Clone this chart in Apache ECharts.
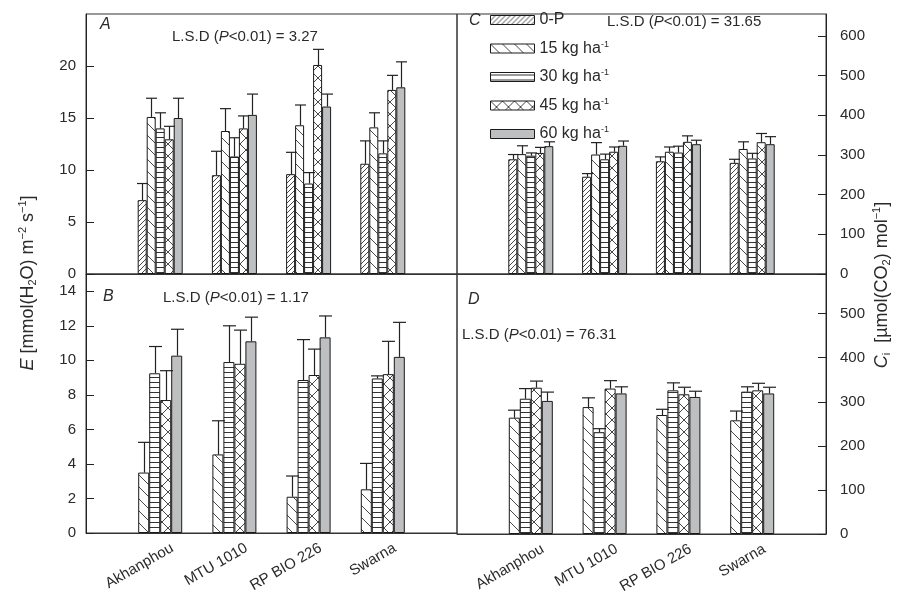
<!DOCTYPE html>
<html>
<head>
<meta charset="utf-8">
<script src="https://cdn.jsdelivr.net/npm/echarts@6/dist/echarts.min.js"></script>
<style>html,body{margin:0;padding:0;background:#fff}#c{width:912px;height:604px}</style>
</head>
<body>
<div id="c"></div>
<script>
// ---- data ----
const categories = ['Akhanphou', 'MTU 1010', 'RP BIO 226', 'Swarna'];
const doseNames = ['0-P', '15 kg ha-1', '30 kg ha-1', '45 kg ha-1', '60 kg ha-1'];

// Panel A: E (mmol m-2 s-1)
const A_0P = [7.1, 9.5, 9.6, 10.6];     const A_0P_err = [1.6, 2.3, 2.1, 2.2];
const A_15 = [15.1, 13.75, 14.3, 14.1]; const A_15_err = [1.8, 2.15, 1.95, 1.4];
const A_30 = [14.0, 11.3, 8.7, 11.6];   const A_30_err = [1.5, 1.8, 1.05, 1.2];
const A_45 = [12.95, 14.0, 20.1, 17.7]; const A_45_err = [1.25, 1.2, 1.5, 1.4];
const A_60 = [15.0, 15.3, 16.1, 17.95]; const A_60_err = [1.9, 2.0, 1.2, 2.45];

// Panel B: E
const B_15 = [3.5, 4.55, 2.1, 2.53];    const B_15_err = [1.75, 1.95, 1.2, 1.5];
const B_30 = [9.25, 9.9, 8.86, 8.95];   const B_30_err = [1.55, 2.1, 2.34, 0.15];
const B_45 = [7.7, 9.8, 9.15, 9.2];     const B_45_err = [1.7, 1.95, 1.5, 1.9];
const B_60 = [10.27, 11.1, 11.33, 10.2];const B_60_err = [1.53, 1.4, 1.24, 2.0];

// Panel C: Ci
const C_0P = [289, 245, 284, 280]; const C_0P_err = [12, 8, 11, 9];
const C_15 = [302, 301, 308, 315]; const C_15_err = [21, 30, 12, 18];
const C_30 = [298, 289, 306, 291]; const C_30_err = [7, 13, 16, 13];
const C_45 = [305, 308, 333, 332]; const C_45_err = [14, 12, 15, 22];
const C_60 = [322, 323, 327, 327]; const C_60_err = [11, 12, 10, 19];

// Panel D: Ci
const D_15 = [264, 288, 270, 258]; const D_15_err = [17, 21, 13, 21];
const D_30 = [307, 231, 326, 323]; const D_30_err = [23, 8, 17, 11];
const D_45 = [332, 330, 317, 326]; const D_45_err = [15, 18, 16, 16];
const D_60 = [302, 319, 311, 319]; const D_60_err = [20, 15, 13, 14];

const lsdA = 'L.S.D (P<0.01) = 3.27';
const lsdB = 'L.S.D (P<0.01) = 1.17';
const lsdC = 'L.S.D (P<0.01) = 31.65';
const lsdD = 'L.S.D (P<0.01) = 76.31';

// ---- styling helpers ----
const FONT = "'Liberation Sans', Arial, Helvetica, sans-serif";
const INK = '#2a2a2a';

function tile(size, draw) {
  const cv = document.createElement('canvas');
  cv.width = size; cv.height = size;
  const ctx = cv.getContext('2d');
  ctx.fillStyle = '#fff'; ctx.fillRect(0, 0, size, size);
  ctx.strokeStyle = '#333'; ctx.fillStyle = '#333'; ctx.lineWidth = 0.9;
  draw(ctx, size);
  return { image: cv, repeat: 'repeat' };
}
const patterns = {
  '0-P': tile(5, (c, s) => { c.beginPath(); c.moveTo(0, s); c.lineTo(s, 0); c.moveTo(-1, 1); c.lineTo(1, -1); c.moveTo(s - 1, s + 1); c.lineTo(s + 1, s - 1); c.stroke(); }),
  '15 kg ha-1': tile(12, (c, s) => { c.beginPath(); c.moveTo(0, 0); c.lineTo(s, s); c.moveTo(-1, s - 1); c.lineTo(1, s + 1); c.moveTo(s - 1, -1); c.lineTo(s + 1, 1); c.stroke(); }),
  '30 kg ha-1': tile(5, (c, s) => { c.fillRect(0, 2, s, 1); }),
  '45 kg ha-1': tile(12, (c, s) => { c.beginPath(); c.moveTo(0, 0); c.lineTo(s, s); c.moveTo(0, s); c.lineTo(s, 0); c.stroke(); }),
  '60 kg ha-1': '#bebfc1'
};

const axisCats = [''].concat(categories, ['']);
const pad = arr => ['-'].concat(arr, ['-']);

const series = [];
function addPanel(idx, list, bw) {
  const n = list.length;
  list.forEach(([name, vals]) => {
    series.push({
      type: 'bar', name: name, xAxisIndex: idx, yAxisIndex: idx,
      data: pad(vals), barWidth: bw, barGap: '0%',
      itemStyle: { color: patterns[name], borderColor: '#1a1a1a', borderWidth: 1 },
      emphasis: { disabled: true }, silent: true
    });
  });
  const errData = [];
  list.forEach(([name, vals, errs], k) => {
    vals.forEach((v, i) => errData.push([i + 1, k, v, errs[i]]));
  });
  series.push({
    type: 'custom', name: 'err' + idx, xAxisIndex: idx, yAxisIndex: idx, z: 5, silent: true,
    data: errData, encode: { x: 0, y: 2 },
    renderItem: function (params, api) {
      const x = api.value(0), k = api.value(1), v = api.value(2), e = api.value(3);
      const b = api.coord([x, v]);
      const t = api.coord([x, v + e]);
      const cx = Math.round(b[0] + (k - (n - 1) / 2) * bw) + 0.5;
      const hw = bw / 2 + 1;
      const st = { stroke: '#222', lineWidth: 1.2 };
      return { type: 'group', children: [
        { type: 'line', shape: { x1: cx, y1: b[1], x2: cx, y2: t[1] }, style: st },
        { type: 'line', shape: { x1: cx - hw, y1: t[1], x2: cx + hw, y2: t[1] }, style: st }
      ] };
    }
  });
}
addPanel(0, [['0-P', A_0P, A_0P_err], ['15 kg ha-1', A_15, A_15_err], ['30 kg ha-1', A_30, A_30_err], ['45 kg ha-1', A_45, A_45_err], ['60 kg ha-1', A_60, A_60_err]], 9);
addPanel(1, [['15 kg ha-1', B_15, B_15_err], ['30 kg ha-1', B_30, B_30_err], ['45 kg ha-1', B_45, B_45_err], ['60 kg ha-1', B_60, B_60_err]], 11);
addPanel(2, [['0-P', C_0P, C_0P_err], ['15 kg ha-1', C_15, C_15_err], ['30 kg ha-1', C_30, C_30_err], ['45 kg ha-1', C_45, C_45_err], ['60 kg ha-1', C_60, C_60_err]], 9);
addPanel(3, [['15 kg ha-1', D_15, D_15_err], ['30 kg ha-1', D_30, D_30_err], ['45 kg ha-1', D_45, D_45_err], ['60 kg ha-1', D_60, D_60_err]], 11);

const grids = [
  { left: 86, top: 14, width: 371, height: 260 },
  { left: 86, top: 274, width: 371, height: 259 },
  { left: 457, top: 14, width: 369, height: 260 },
  { left: 457, top: 274, width: 369, height: 260 }
].map(g => Object.assign({ show: true, borderColor: '#333', borderWidth: 1, backgroundColor: 'transparent' }, g));

const xAxes = [0, 1, 2, 3].map(i => ({
  type: 'category', gridIndex: i, data: axisCats, boundaryGap: false,
  axisLine: { show: true, lineStyle: { color: '#333' } },
  axisTick: { show: false },
  axisLabel: (i === 1 || i === 3) ? { show: true, rotate: 30, margin: 21, fontFamily: FONT, fontSize: 15, color: INK, interval: 0, padding: [0, -14, 0, 0] } : { show: false },
  splitLine: { show: false }
}));

function yAxis(i, max, interval, right) {
  return {
    type: 'value', gridIndex: i, min: 0, max: max, interval: interval,
    position: right ? 'right' : 'left',
    axisLine: { show: true, lineStyle: { color: '#222' } },
    axisTick: { show: true, inside: true, length: 8, lineStyle: { color: '#222' } },
    axisLabel: { fontFamily: FONT, fontSize: 15, color: INK, margin: right ? 14 : 10, showMaxLabel: false },
    splitLine: { show: false }
  };
}
const yAxes = [yAxis(0, 25, 5, false), yAxis(1, 15, 2, false), yAxis(2, 655, 100, true), yAxis(3, 590, 100, true)];

function lsdRich(s) {
  const parts = s.split('P');
  return '{t|' + parts[0] + '}{i|P}{t|' + parts[1] + '}';
}
const lsdStyle = {
  t: { fontFamily: FONT, fontSize: 15, fill: INK, color: INK },
  i: { fontFamily: FONT, fontSize: 15, fontStyle: 'italic', fill: INK, color: INK }
};
function txt(x, y, text, extra) {
  return { type: 'text', x: x, y: y, silent: true, style: Object.assign({ text: text, fontFamily: FONT, fontSize: 15, fill: INK }, extra || {}) };
}
const letter = { fontSize: 16, fontStyle: 'italic' };
const titleRich = {
  n: { fontFamily: FONT, fontSize: 18, fill: INK, color: INK },
  it: { fontFamily: FONT, fontSize: 18, fontStyle: 'italic', fill: INK, color: INK },
  sub: { fontFamily: FONT, fontSize: 11, fill: INK, color: INK, padding: [10, 0, 0, 0] },
  sup: { fontFamily: FONT, fontSize: 11, fill: INK, color: INK, padding: [0, 0, 10, 0] }
};

const graphics = [
  txt(100, 17, 'A', letter),
  txt(103, 289, 'B', letter),
  txt(469, 13, 'C', letter),
  txt(468, 292, 'D', letter),
  txt(172, 29, lsdRich(lsdA), { rich: lsdStyle }),
  txt(163, 290, lsdRich(lsdB), { rich: lsdStyle }),
  txt(607, 14, lsdRich(lsdC), { rich: lsdStyle }),
  txt(462, 327, lsdRich(lsdD), { rich: lsdStyle }),
  { type: 'text', x: 28, y: 283, rotation: Math.PI / 2, silent: true,
    style: { text: '{it|E}{n| [mmol(H}{sub|2}{n|O) m}{sup|−2}{n| s}{sup|−1}{n|]}', rich: titleRich, align: 'center', verticalAlign: 'middle' } },
  { type: 'text', x: 882, y: 285, rotation: Math.PI / 2, silent: true,
    style: { text: '{it|C}{sub|i}{n|  [µmol(CO}{sub|2}{n|) mol}{sup|−1}{n|]}', rich: titleRich, align: 'center', verticalAlign: 'middle' } }
];

const chart = echarts.init(document.getElementById('c'), null, { renderer: 'canvas' });
chart.setOption({
  animation: false,
  backgroundColor: '#fff',
  grid: grids,
  xAxis: xAxes,
  yAxis: yAxes,
  legend: {
    data: doseNames, orient: 'vertical', left: 490, top: 12, padding: 0,
    icon: 'rect', itemWidth: 44, itemHeight: 9, itemGap: 12,
    selectedMode: false,
    itemStyle: { borderColor: '#1a1a1a', borderWidth: 1 },
    formatter: function (name) {
      if (name === '0-P') return '{n|0-P}';
      return '{n|' + name.replace('-1', '') + '}{s|-1}';
    },
    textStyle: {
      fontFamily: FONT, fontSize: 16, color: INK,
      rich: {
        n: { fontFamily: FONT, fontSize: 16, color: INK, lineHeight: 18 },
        s: { fontFamily: FONT, fontSize: 9, color: INK, padding: [0, 0, 8, 0] }
      }
    }
  },
  graphic: graphics,
  series: series
});
</script>
</body>
</html>
